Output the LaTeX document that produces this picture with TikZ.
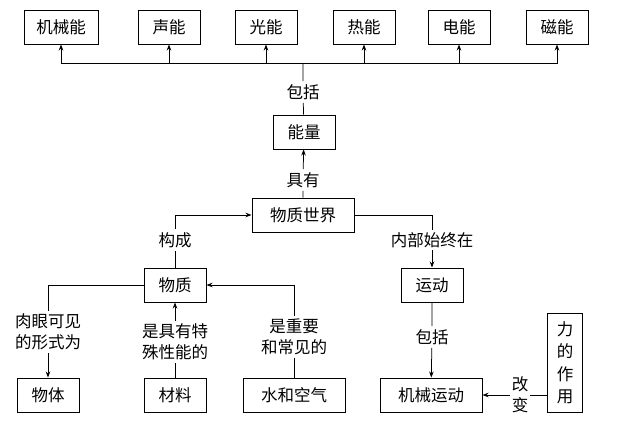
\documentclass[tikz,border=0pt]{standalone}
\usepackage{fontspec}
\setmainfont{Noto Sans CJK SC}
\usepackage{tikz}
\usetikzlibrary{arrows.meta,positioning}

\begin{document}
\begin{tikzpicture}[x=1pt, y=-1pt, >={Stealth[length=6pt,width=4.5pt]},
    font=\fontsize{16.5}{21}\selectfont,
    box/.style={draw, line width=1pt, minimum width=62pt, minimum height=34pt, inner sep=2pt},
    wide/.style={box, minimum width=102pt},
    lbl/.style={inner sep=3pt, align=center},
    link/.style={line width=0.75pt}]
\useasboundingbox (0,0) rectangle (640,429);
% forms of energy
\node[box, minimum width=74pt] (mech) at (61,27) {机械能};
\node[box] (sound) at (169,27) {声能};
\node[box] (light) at (266,27) {光能};
\node[box] (heat) at (364,27) {热能};
\node[box] (elec) at (459,27) {电能};
\node[box] (magn) at (557,27) {磁能};
\coordinate (hub) at (303,63);
\node[lbl] (incl) at (303,92) {包括};
\node[box] (energy) at (304,132) {能量};
\node[lbl] (have) at (303,180) {具有};
\node[wide] (world) at (303,215) {物质世界};
% left branch
\node[lbl] (form) at (175,240) {构成};
\node[box] (matter) at (175,285) {物质};
\node[lbl] (seen) at (48,332) {肉眼可见\\的形式为};
\node[lbl] (spec) at (175,342) {是具有特\\殊性能的};
\node[lbl] (comm) at (294,337) {是重要\\和常见的};
\node[box] (body) at (48,395) {物体};
\node[box] (material) at (175,395) {材料};
\node[wide] (water) at (294,395) {水和空气};
% right branch
\node[lbl, inner sep=2pt] (inside) at (432,240) {内部始终在};
\node[box] (motion) at (432,285) {运动};
\node[lbl] (incl2) at (432,337) {包括};
\node[wide] (mechmot) at (431,395) {机械运动};
\node[box, minimum width=35pt, minimum height=99pt, align=center, inner sep=1pt,
  font=\fontsize{16.5}{22.5}\selectfont] (force) at (565,363) {力\\的\\作\\用};
\node[lbl, inner sep=2pt] (change) at (520,395) {改\\变};
% connectors
\draw[link] (energy) -- (incl) -- (hub);
\foreach \n in {mech,sound,light,heat,elec,magn}
  \draw[link,->] (hub) -| (\n.south);
\draw[link,->] (world) -- (have) -- (energy);
\draw[link,->] (matter) -- (form) |- (world.west);
\draw[link,->] (world.east) -| (inside) -- (motion);
\draw[link,->] (matter.west) -| (seen) -- (body);
\draw[link,->] (material) -- (spec) -- (matter);
\draw[link,->] (water) -- (comm) |- (matter.east);
\draw[link,->] (motion) -- (incl2) -- (mechmot);
\draw[link,->] (force.west |- change) -- (change) -- (mechmot);
\end{tikzpicture}
\end{document}
